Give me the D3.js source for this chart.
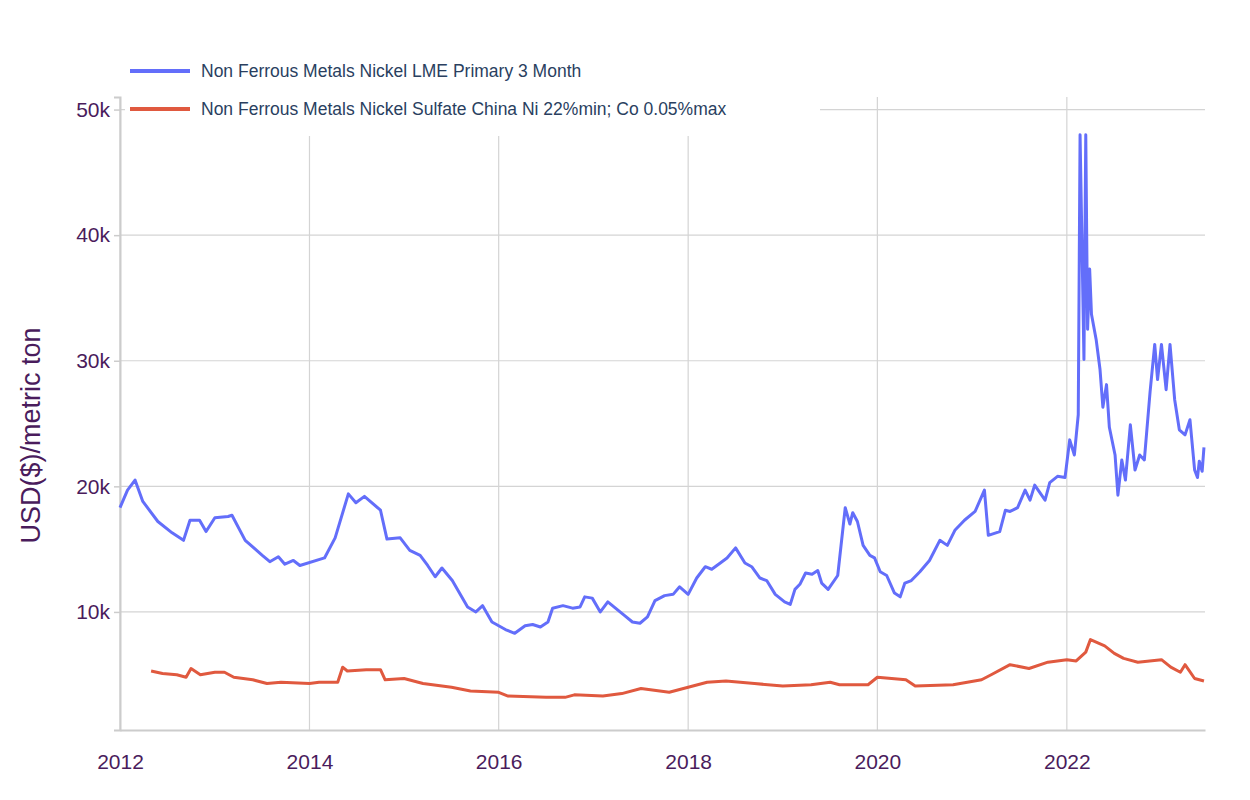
<!DOCTYPE html>
<html><head><meta charset="utf-8">
<script src="https://cdn.jsdelivr.net/npm/d3@7"></script>
<style>body{margin:0;background:#fff;font-family:"Helvetica Neue",Arial,"Liberation Sans",sans-serif}</style>
</head><body><svg id="chart"></svg>
<script>
// years after 2012 (decimal) and values in USD thousands
const lmeYears = [0.00,0.08,0.16,0.24,0.40,0.55,0.67,0.74,0.84,0.91,1.00,1.14,1.18,1.32,1.50,1.58,1.67,1.74,1.83,1.90,2.16,2.27,2.41,2.49,2.58,2.75,2.82,2.96,3.06,3.17,3.25,3.33,3.40,3.51,3.67,3.76,3.83,3.93,4.07,4.17,4.28,4.36,4.44,4.52,4.57,4.68,4.78,4.86,4.91,4.99,5.07,5.15,5.33,5.41,5.49,5.57,5.65,5.75,5.84,5.91,6.00,6.09,6.18,6.25,6.34,6.41,6.50,6.60,6.67,6.76,6.83,6.92,7.02,7.08,7.13,7.18,7.24,7.31,7.37,7.41,7.48,7.58,7.66,7.71,7.74,7.79,7.85,7.92,7.97,8.03,8.10,8.18,8.24,8.29,8.36,8.45,8.55,8.66,8.74,8.82,8.92,9.03,9.13,9.17,9.29,9.35,9.40,9.48,9.56,9.61,9.66,9.77,9.82,9.90,9.98,10.03,10.08,10.12,10.14,10.18,10.20,10.22,10.24,10.26,10.31,10.35,10.38,10.42,10.45,10.51,10.54,10.58,10.62,10.67,10.72,10.77,10.82,10.88,10.93,10.96,11.00,11.05,11.09,11.14,11.19,11.25,11.30,11.35,11.38,11.40,11.43,11.45];
const lmeValues = [18.3,19.7,20.5,18.8,17.2,16.3,15.7,17.3,17.3,16.4,17.5,17.6,17.7,15.7,14.5,14.0,14.4,13.8,14.1,13.7,14.3,15.9,19.4,18.7,19.2,18.1,15.8,15.9,14.9,14.5,13.7,12.8,13.5,12.5,10.4,10.0,10.5,9.2,8.6,8.3,8.9,9.0,8.8,9.2,10.3,10.5,10.3,10.4,11.2,11.1,10.0,10.8,9.7,9.2,9.1,9.6,10.9,11.3,11.4,12.0,11.4,12.7,13.6,13.4,13.9,14.3,15.1,13.9,13.6,12.7,12.5,11.4,10.8,10.6,11.8,12.2,13.1,13.0,13.3,12.3,11.8,12.9,18.3,17.0,17.9,17.2,15.3,14.5,14.3,13.2,12.9,11.5,11.2,12.3,12.5,13.2,14.1,15.7,15.3,16.5,17.3,18.0,19.7,16.1,16.4,18.1,18.0,18.3,19.7,18.9,20.1,18.9,20.3,20.8,20.7,23.7,22.5,25.7,48.0,30.1,48.0,32.5,37.3,33.7,31.7,29.3,26.3,28.1,24.7,22.5,19.3,22.1,20.5,24.9,21.3,22.5,22.1,27.5,31.3,28.5,31.3,27.7,31.3,26.9,24.5,24.1,25.3,21.3,20.7,22.0,21.2,23.1];
const sulfYears = [0.33,0.45,0.60,0.70,0.75,0.85,1.00,1.10,1.20,1.40,1.55,1.70,2.00,2.10,2.30,2.35,2.40,2.60,2.75,2.80,3.00,3.20,3.50,3.70,4.00,4.10,4.50,4.70,4.80,5.10,5.30,5.50,5.80,6.00,6.20,6.40,6.70,7.00,7.30,7.50,7.60,7.90,8.00,8.30,8.40,8.80,9.10,9.20,9.40,9.60,9.80,10.00,10.10,10.20,10.25,10.40,10.50,10.60,10.75,11.00,11.10,11.20,11.25,11.35,11.45];
const sulfValues = [5.3,5.1,5.0,4.8,5.5,5.0,5.2,5.2,4.8,4.6,4.3,4.4,4.3,4.4,4.4,5.6,5.3,5.4,5.4,4.6,4.7,4.3,4.0,3.7,3.6,3.3,3.2,3.2,3.4,3.3,3.5,3.9,3.6,4.0,4.4,4.5,4.3,4.1,4.2,4.4,4.2,4.2,4.8,4.6,4.1,4.2,4.6,5.0,5.8,5.5,6.0,6.2,6.1,6.8,7.8,7.3,6.7,6.3,6.0,6.2,5.6,5.2,5.8,4.7,4.5];
const seriesNames = ["Non Ferrous Metals Nickel LME Primary 3 Month", "Non Ferrous Metals Nickel Sulfate China Ni 22%min; Co 0.05%max"];
const seriesColors = ["#636efa", "#e0593f"];
const xTickYears = [2012, 2014, 2016, 2018, 2020, 2022];
const yTicks = [10000, 20000, 30000, 40000, 50000];

const W = 1250, H = 800;
const m = {top: 97, right: 45, bottom: 70, left: 120};
const svg = d3.select("#chart").attr("width", W).attr("height", H);
const toDate = y => { const yr = 2012 + Math.floor(y); return new Date(yr, 0, 1 + Math.round((y % 1) * 365)); };

const x = d3.scaleTime().domain([new Date(2012, 0, 1), toDate(11.46)]).range([m.left, W - m.right]);
const y = d3.scaleLinear().domain([600, 51000]).range([H - m.bottom, m.top]);
const txt = "#4a1c5c";

// grid
svg.append("g").selectAll("line").data(yTicks).join("line")
    .attr("x1", m.left).attr("x2", W - m.right)
    .attr("y1", d => y(d)).attr("y2", d => y(d))
    .attr("stroke", "#d4d4d4").attr("stroke-width", 1.2);
svg.append("g").selectAll("line").data(xTickYears).join("line")
    .attr("x1", d => x(new Date(d, 0, 1))).attr("x2", d => x(new Date(d, 0, 1)))
    .attr("y1", m.top).attr("y2", H - m.bottom)
    .attr("stroke", "#d4d4d4").attr("stroke-width", 1.2);

// axes
const yAxis = svg.append("g").attr("transform", `translate(${m.left},0)`)
    .call(d3.axisLeft(y).tickValues(yTicks).tickFormat(d => d / 1000 + "k").tickSize(6).tickPadding(4));
const xAxis = svg.append("g").attr("transform", `translate(0,${H - m.bottom})`)
    .call(d3.axisBottom(x).tickValues(xTickYears.map(d => new Date(d, 0, 1))).tickFormat(d3.timeFormat("%Y")).tickSize(0).tickPadding(24));
[yAxis, xAxis].forEach(a => {
    a.select(".domain").attr("stroke", "#cccccc").attr("stroke-width", 2);
    a.selectAll(".tick line").attr("stroke", "#cccccc").attr("stroke-width", 1.5);
    a.selectAll("text").attr("fill", txt).style("font-size", "21px").style("font-family", "Helvetica Neue, Arial, Liberation Sans, sans-serif");
});

svg.append("text").attr("transform", `translate(40,${(m.top + H - m.bottom) / 2 + 22}) rotate(-90)`)
    .attr("text-anchor", "middle").attr("fill", txt).style("font-size", "27px")
    .text("USD($)/metric ton");

// lines
const line = d3.line().x(d => x(toDate(d[0]))).y(d => y(d[1] * 1000));
const data = [d3.zip(lmeYears, lmeValues), d3.zip(sulfYears, sulfValues)];
data.forEach((d, i) => {
    svg.append("path").datum(d).attr("d", line).attr("fill", "none")
        .attr("stroke", seriesColors[i]).attr("stroke-width", 3).attr("stroke-linejoin", "round");
});

// legend
const lg = svg.append("g").attr("transform", "translate(125,52)");
lg.append("rect").attr("x", 0).attr("y", 0).attr("width", 695).attr("height", 84).attr("fill", "#fff");
seriesNames.forEach((n, i) => {
    const g = lg.append("g").attr("transform", `translate(0,${19 + i * 38})`);
    g.append("line").attr("x1", 5).attr("x2", 65).attr("stroke", seriesColors[i]).attr("stroke-width", 4);
    g.append("text").attr("x", 76).attr("dy", "0.35em").attr("fill", "#2a3f5f").style("font-size", "17.5px").text(n);
});
</script>
</body></html>
